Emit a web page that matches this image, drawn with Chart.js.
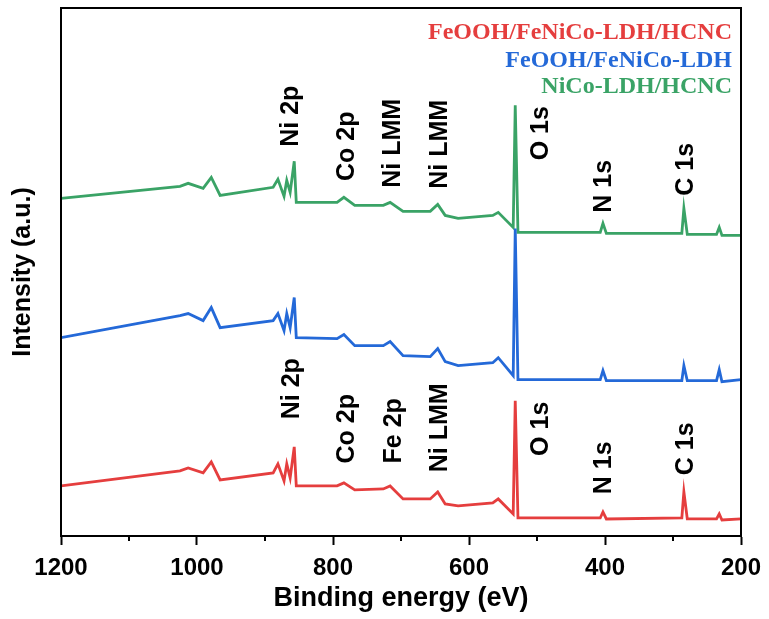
<!DOCTYPE html>
<html>
<head>
<meta charset="utf-8">
<script src="https://cdn.jsdelivr.net/npm/chart.js@4.4.1/dist/chart.umd.min.js"></script>
<style>
  html, body { margin: 0; padding: 0; background: #fff; }
  #wrap { width: 769px; height: 619px; }
</style>
</head>
<body>
<div id="wrap"><canvas id="xps"></canvas></div>
<script>
// binding energy (eV) sample points, shared by the three spectra
const energy = [1200, 1025, 1013, 991, 979, 966, 888, 881, 872, 868, 863, 857, 854, 794, 784, 768, 726, 716, 697, 657, 646, 635, 616, 565, 557, 535, 532, 528, 407, 403, 398, 287, 284, 279, 236, 232, 228, 200];

// intensities (a.u., already offset)
const nicoLdhHcnc = [337, 349, 352, 347, 358, 340, 348, 356, 339, 355, 343, 374, 333, 333, 338, 330, 330, 333, 324, 324, 331, 320, 317, 320, 323, 308, 430, 303, 303, 312, 302, 302, 327, 301, 301, 308, 300, 300];
const feoohLdh = [198, 220, 222, 215, 228, 208, 215, 222, 205, 222, 208, 238, 198, 197, 201, 190, 190, 194, 180, 179, 187, 174, 170, 173, 178, 160, 307, 156, 156, 165, 155, 155, 170, 155, 155, 166, 154, 156];
const feoohLdhHcnc = [50, 65, 68, 63, 74, 56, 63, 72, 55, 72, 58, 89, 50, 50, 53, 46, 47, 50, 37, 37, 44, 32, 30, 33, 37, 22, 135, 18, 18, 24, 17, 18, 44, 17, 17, 22, 16, 17];

const seriesNames = ['FeOOH/FeNiCo-LDH/HCNC', 'FeOOH/FeNiCo-LDH', 'NiCo-LDH/HCNC'];
const seriesColors = ['#e53e3e', '#2469d8', '#3aa366'];

// peak labels: text, energy, intensity
const peakText = ['Ni 2p', 'Co 2p', 'Ni LMM', 'Ni LMM', 'O 1s', 'N 1s', 'C 1s',
                  'Ni 2p', 'Co 2p', 'Fe 2p', 'Ni LMM', 'O 1s', 'N 1s', 'C 1s'];
const peakEnergy = [862, 779, 712, 643, 494, 401, 281,
                    860, 779, 710, 643, 494, 401, 281];
const peakLevel = [419, 389, 392, 391, 402, 349, 366,
                   147, 107, 105, 108, 107, 68, 87];

const minorTicks = [1100, 900, 700, 500, 300];

function toPoints(vals) {
    return energy.map((e, i) => ({ x: e, y: vals[i] }));
}

const extras = {
    id: 'extras',
    afterDatasetsDraw(chart) {
        const ctx = chart.ctx;
        const area = chart.chartArea;
        const xs = chart.scales.x;
        const ys = chart.scales.y;
        ctx.save();

        // frame
        ctx.strokeStyle = '#000';
        ctx.lineWidth = 2;
        ctx.strokeRect(area.left, area.top, area.right - area.left, area.bottom - area.top);

        // minor ticks
        ctx.beginPath();
        minorTicks.forEach(v => {
            const px = xs.getPixelForValue(v);
            ctx.moveTo(px, area.bottom);
            ctx.lineTo(px, area.bottom + 5);
        });
        ctx.stroke();

        // peak labels
        ctx.fillStyle = '#000';
        ctx.font = 'bold 25px "Liberation Sans", Arial, sans-serif';
        ctx.textAlign = 'center';
        ctx.textBaseline = 'middle';
        peakText.forEach((t, i) => {
            ctx.save();
            ctx.translate(xs.getPixelForValue(peakEnergy[i]), ys.getPixelForValue(peakLevel[i]));
            ctx.rotate(-Math.PI / 2);
            ctx.fillText(t, 0, 0);
            ctx.restore();
        });

        // legend (coloured text only)
        ctx.font = 'bold 24px "Liberation Serif", "Times New Roman", serif';
        ctx.textAlign = 'right';
        const legendY = [33, 61, 87];
        seriesNames.forEach((n, i) => {
            ctx.fillStyle = seriesColors[i];
            ctx.fillText(n, area.right - 9, area.top + legendY[i] - 8);
        });
        ctx.restore();
    }
};

document.addEventListener('DOMContentLoaded', () => {
    const ctx = document.getElementById('xps').getContext('2d');
    const series = [feoohLdhHcnc, feoohLdh, nicoLdhHcnc];

    new Chart(ctx, {
        type: 'line',
        data: {
            datasets: series.map((vals, i) => ({
                label: seriesNames[i],
                data: toPoints(vals),
                borderColor: seriesColors[i],
                borderWidth: 2.8,
                pointRadius: 0,
                tension: 0,
                fill: false
            }))
        },
        options: {
            responsive: true,
            maintainAspectRatio: false,
            animation: false,
            layout: { padding: { left: 4, right: 28, top: 8, bottom: 7 } },
            plugins: {
                legend: { display: false },
                tooltip: { enabled: false }
            },
            scales: {
                x: {
                    type: 'linear',
                    reverse: true,
                    min: 200,
                    max: 1200,
                    afterFit: scale => { scale.paddingLeft = 0; scale.paddingRight = 0; },
                    border: { display: true, color: '#000', width: 2 },
                    grid: { drawOnChartArea: false, drawTicks: true, tickLength: 9, tickWidth: 2, tickColor: '#000' },
                    ticks: {
                        stepSize: 200,
                        padding: 11,
                        color: '#000',
                        callback: v => String(v),
                        font: { family: '"Liberation Sans", Arial, sans-serif', size: 24, weight: 'bold', lineHeight: 1.0 }
                    },
                    title: {
                        display: true,
                        text: 'Binding energy (eV)',
                        color: '#000',
                        padding: { top: -6, bottom: 0 },
                        font: { family: '"Liberation Sans", Arial, sans-serif', size: 27, weight: 'bold', lineHeight: 1.0 }
                    }
                },
                y: {
                    min: 0,
                    max: 527,
                    border: { display: false },
                    grid: { display: false },
                    ticks: { display: false },
                    title: {
                        display: true,
                        text: 'Intensity (a.u.)',
                        color: '#000',
                        padding: { top: 4, bottom: 15 },
                        font: { family: '"Liberation Sans", Arial, sans-serif', size: 25, weight: 'bold' }
                    }
                }
            }
        },
        plugins: [extras]
    });
});
</script>
</body>
</html>
